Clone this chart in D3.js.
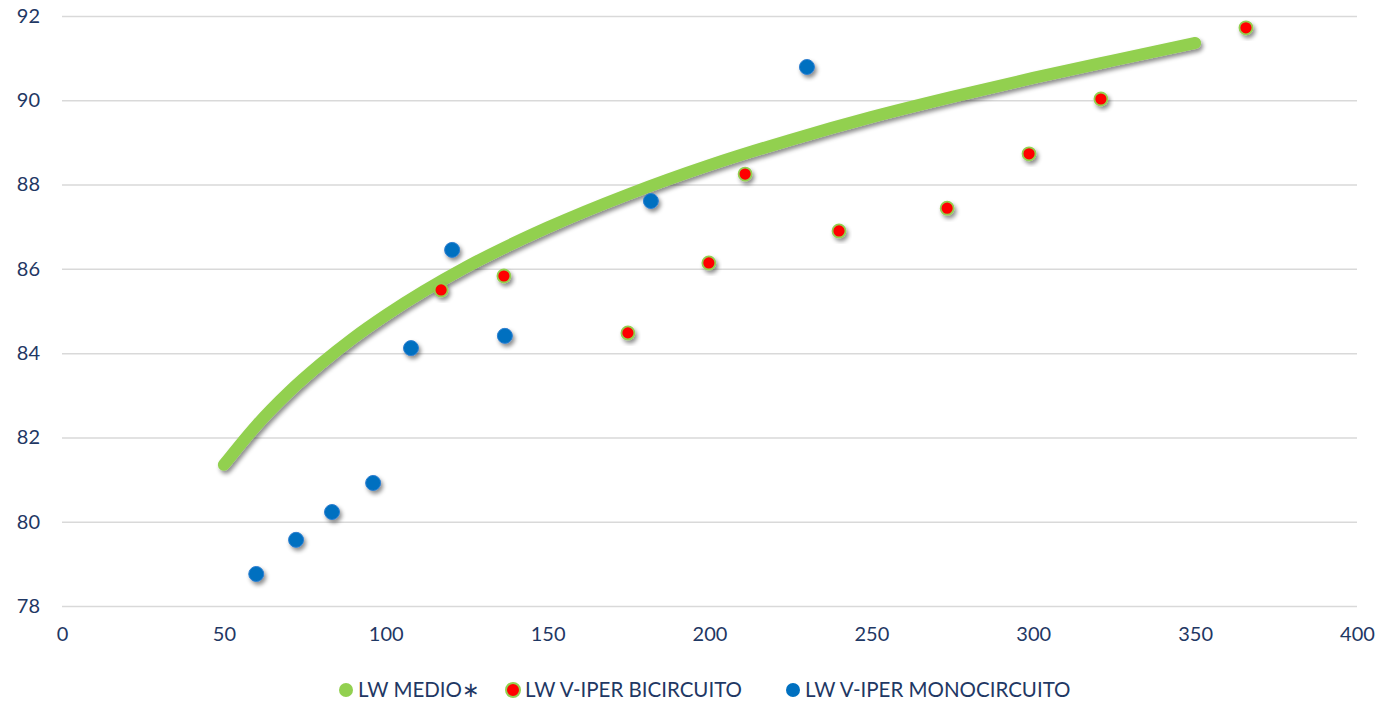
<!DOCTYPE html>
<html>
<head>
<meta charset="utf-8">
<script src="https://cdn.jsdelivr.net/npm/d3@7"></script>
<style>
  html, body { margin: 0; padding: 0; background: #fff; }
  svg { display: block; }
  text { font-family: Lato, "Open Sans", sans-serif; }
</style>
</head>
<body>
<svg id="chart" width="1382" height="703"></svg>
<script>
// ---- data ----
const xTicks = [0, 50, 100, 150, 200, 250, 300, 350, 400];
const yTicks = [78, 80, 82, 84, 86, 88, 90, 92];

const medioX = [50, 60, 70, 80, 90, 100, 125, 150, 175, 200, 225, 250, 275, 300, 325, 350];
const medioY = [81.35, 82.28, 83.07, 83.75, 84.36, 84.90, 86.05, 86.98, 87.77, 88.46, 89.06, 89.60, 90.08, 90.53, 90.95, 91.36];

const biX = [117.1, 136.5, 174.8, 199.8, 211.0, 240.0, 273.4, 298.7, 320.9, 365.7];
const biY = [85.50, 85.83, 84.48, 86.14, 88.25, 86.90, 87.44, 88.73, 90.03, 91.72];

const monoX = [60.0, 72.3, 83.4, 96.1, 107.8, 120.5, 136.8, 181.9, 230.1];
const monoY = [78.76, 79.57, 80.23, 80.92, 84.12, 86.45, 84.41, 87.61, 90.79];

const seriesNames = ["LW MEDIO\u2217", "LW V-IPER BICIRCUITO", "LW V-IPER MONOCIRCUITO"];

// ---- chart ----
const svg = d3.select("#chart");
const textColor = "#1F3864";
const green = "#92D050", red = "#FF0000", blue = "#0070C0";

const x = d3.scaleLinear().domain([0, 400]).range([62, 1357]);
const y = d3.scaleLinear().domain([78, 92]).range([606, 16]);

const defs = svg.append("defs");
const f = defs.append("filter").attr("id", "shadow")
  .attr("x", "-50%").attr("y", "-50%").attr("width", "200%").attr("height", "200%");
f.append("feDropShadow").attr("dx", 2).attr("dy", 3).attr("stdDeviation", 2)
  .attr("flood-color", "#000").attr("flood-opacity", 0.45);

// gridlines + y labels
const yAxis = d3.axisLeft(y).tickValues(yTicks).tickSize(-(x.range()[1] - x.range()[0])).tickPadding(22);
const gy = svg.append("g").attr("transform", `translate(${x.range()[0]},0)`).call(yAxis);
gy.select(".domain").remove();
gy.selectAll(".tick line").attr("stroke", "#D9D9D9").attr("stroke-width", 1.5);
gy.selectAll(".tick text").attr("fill", textColor).style("font-size", "20px");

// x labels
const gx = svg.append("g").attr("transform", `translate(0,${y.range()[0]})`)
  .call(d3.axisBottom(x).tickValues(xTicks).tickSize(0).tickPadding(21));
gx.select(".domain").remove();
gx.selectAll(".tick text").attr("fill", textColor).style("font-size", "20px");

// medio line
const medio = medioX.map((d, i) => [d, medioY[i]]);
svg.append("path")
  .datum(medio)
  .attr("d", d3.line().x(d => x(d[0])).y(d => y(d[1])).curve(d3.curveMonotoneX))
  .attr("fill", "none")
  .attr("stroke", green)
  .attr("stroke-width", 12)
  .attr("stroke-linecap", "round")
  .attr("filter", "url(#shadow)");

// scatter
const bi = biX.map((d, i) => [d, biY[i]]);
const mono = monoX.map((d, i) => [d, monoY[i]]);

svg.append("g").selectAll("circle").data(mono).join("circle")
  .attr("cx", d => x(d[0])).attr("cy", d => y(d[1])).attr("r", 7.5)
  .attr("fill", blue).attr("stroke", "#2E7FD0").attr("stroke-width", 1)
  .attr("filter", "url(#shadow)");

svg.append("g").selectAll("circle").data(bi).join("circle")
  .attr("cx", d => x(d[0])).attr("cy", d => y(d[1])).attr("r", 6.5)
  .attr("fill", red).attr("stroke", green).attr("stroke-width", 1.8)
  .attr("filter", "url(#shadow)");

// legend
const legendItems = [
  { name: seriesNames[0], fill: green, stroke: "none", x: 346 },
  { name: seriesNames[1], fill: red, stroke: green, x: 513 },
  { name: seriesNames[2], fill: blue, stroke: "none", x: 793 }
];
const lg = svg.append("g");
legendItems.forEach(it => {
  lg.append("circle").attr("cx", it.x).attr("cy", 690).attr("r", 7)
    .attr("fill", it.fill).attr("stroke", it.stroke).attr("stroke-width", it.stroke === "none" ? 0 : 2);
  lg.append("text").attr("x", it.x + 12).attr("y", 690).attr("dy", "0.35em")
    .attr("fill", textColor).style("font-size", "20.5px").text(it.name);
});
</script>
</body>
</html>
